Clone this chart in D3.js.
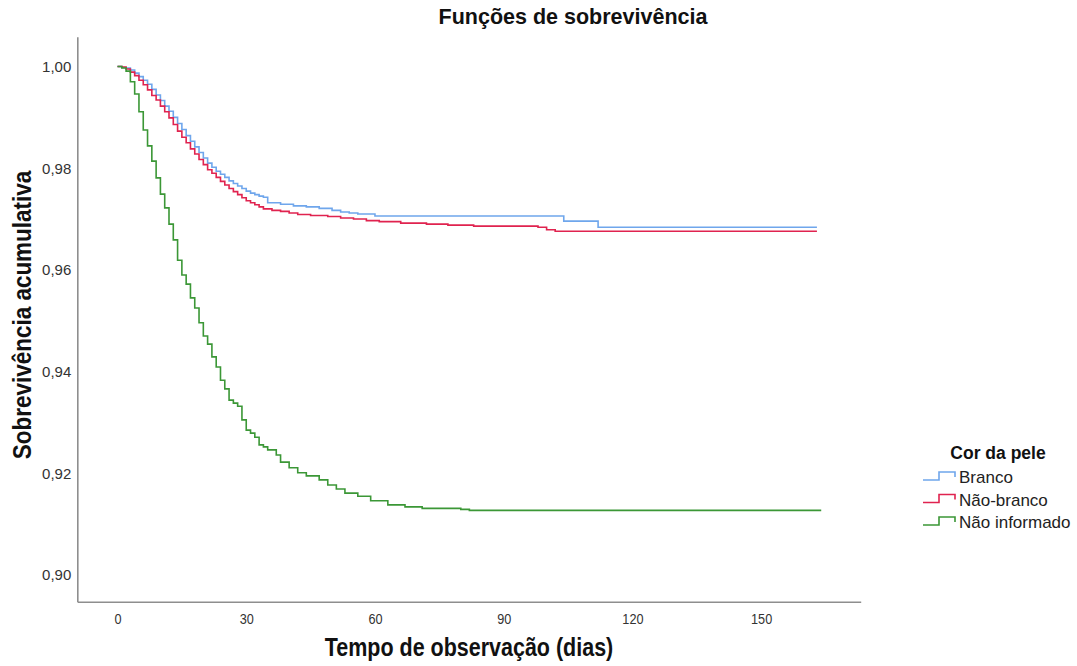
<!DOCTYPE html>
<html>
<head>
<meta charset="utf-8">
<script src="https://cdn.jsdelivr.net/npm/d3@7"></script>
<style>
	body { margin: 0; background: #fff; }
	text { font-family: "Liberation Sans", Arial, sans-serif; }
</style>
</head>
<body>
<div id="chart-area"></div>
<script>

// Kaplan-Meier curves (time in days, cumulative survival)
let brancoT = [0,1,2,3,4,5,6,7,8,9,10,11,12,13,14,15,16,17,18,19,20,21,22,23,24,25,26,27,28,29,30,31,32,33,34,
	35,38,41,44,47,50,52,54,56,60,104,112,163];
let brancoS = [1.0,0.9998,0.9997,0.9993,0.9987,0.9980,0.9973,0.9965,0.9955,0.9944,0.9933,0.9922,0.9912,0.9900,
	0.9888,0.9876,0.9864,0.9853,0.9842,0.9831,0.9820,0.9810,0.9802,0.9794,0.9788,0.9782,0.9775,0.9770,0.9765,
	0.9760,0.9755,0.9751,0.9748,0.9745,0.9743,
	0.9732,0.9729,0.9726,0.9724,0.9721,0.9717,0.9714,0.9712,0.9710,0.9706,0.9696,0.9684,0.9684];

let naoBrancoT = [0,1,2,3,4,5,6,7,8,9,10,11,12,13,14,15,16,17,18,19,20,21,22,23,24,25,26,27,28,29,30,31,32,33,34,
	36,38,40,42,45,49,52,55,58,61,66,72,77,83,98,100,102,163];
let naoBrancoS = [1.0,0.9999,0.9995,0.9989,0.9982,0.9973,0.9964,0.9954,0.9943,0.9934,0.9922,0.9911,0.9899,0.9886,
	0.9873,0.9861,0.9850,0.9838,0.9828,0.9817,0.9807,0.9797,0.9790,0.9782,0.9774,0.9767,0.9760,0.9754,0.9748,
	0.9742,0.9736,0.9732,0.9728,0.9724,0.9720,
	0.9717,0.9715,0.9712,0.9709,0.9707,0.9705,0.9702,0.9700,0.9697,0.9695,0.9692,0.9690,0.9688,0.9686,0.9684,
	0.9679,0.9676,0.9676];

let naoInfT = [0,1,2,3,4,5,6,7,8,9,10,11,12,13,14,15,16,17,18,19,20,21,22,23,24,25,26,27,28,29,30,31,32,33,34,35,
	37,38,40,42,44,47,49,51,53,56,59,63,67,71,80,82,164];
let naoInfS = [1.0,0.9997,0.9991,0.9970,0.9946,0.9911,0.9875,0.9844,0.9814,0.9781,0.9749,0.9722,0.9690,0.9659,
	0.9619,0.9590,0.9572,0.9545,0.9525,0.9496,0.9470,0.9454,0.9429,0.9409,0.9383,0.9366,0.9344,0.9338,0.9332,
	0.9305,0.9285,0.9279,0.9271,0.9256,0.9252,0.9246,
	0.9236,0.9222,0.9211,0.9201,0.9195,0.9187,0.9177,0.9169,0.9161,0.9155,0.9146,0.9138,0.9134,0.9131,0.9129,
	0.9127,0.9127];

let groupNames = ["Branco", "Não-branco", "Não informado"];
let xTicks = [0, 30, 60, 90, 120, 150];
let yTicks = [0.90, 0.92, 0.94, 0.96, 0.98, 1.00];

let series = [
	{name: groupNames[0], t: brancoT, s: brancoS, color: "#6fa6ec"},
	{name: groupNames[1], t: naoBrancoT, s: naoBrancoS, color: "#e0234f"},
	{name: groupNames[2], t: naoInfT, s: naoInfS, color: "#3b9736"}
];

let width = 1077,
	height = 666;

let svg = d3.select("#chart-area").append("svg")
	.attr("width", width)
	.attr("height", height);

// scales (frame: left edge x=77, bottom edge y=602)
let x = d3.scaleLinear()
	.domain([-9.37, 173.2])
	.range([77.3, 860.7]);

let y = d3.scaleLinear()
	.domain([0.89475, 1.00586])
	.range([601.7, 36.7]);

// axes
let xAxis = d3.axisBottom(x)
	.tickValues(xTicks)
	.tickSize(0)
	.tickSizeOuter(0)
	.tickPadding(11)
	.tickFormat(d3.format("d"));

let yAxis = d3.axisLeft(y)
	.tickValues(yTicks)
	.tickSize(0)
	.tickSizeOuter(0)
	.tickPadding(6)
	.tickFormat(d => d3.format(".2f")(d).replace(".", ","));

svg.append("g")
	.attr("class", "x-axis")
	.attr("transform", `translate(0, ${y.range()[0]})`)
	.call(xAxis);

svg.append("g")
	.attr("class", "y-axis")
	.attr("transform", `translate(${x.range()[0]}, 0)`)
	.call(yAxis);

svg.selectAll(".domain")
	.attr("stroke", "#8e8e8e")
	.attr("stroke-width", 1.6);

svg.selectAll(".tick text")
	.attr("font-size", 15)
	.attr("fill", "#333");

// the source labels look condensed
svg.selectAll(".x-axis .tick text")
	.attr("font-size", 15.5)
	.attr("transform", "scale(0.82,1)");

// survival curves
let line = d3.line()
	.x(d => x(d[0]))
	.y(d => y(d[1]))
	.curve(d3.curveStepAfter);

svg.selectAll(".km-line")
	.data(series)
	.enter().append("path")
	.attr("class", "km-line")
	.attr("fill", "none")
	.attr("stroke", d => d.color)
	.attr("stroke-width", 1.6)
	.attr("d", d => line(d.t.map((t, i) => [t, d.s[i]])));

// titles
svg.append("text")
	.attr("x", 573)
	.attr("y", 24)
	.attr("text-anchor", "middle")
	.attr("font-size", 21.5)
	.attr("font-weight", "bold")
	.attr("fill", "#111")
	.text("Funções de sobrevivência");

svg.append("text")
	.attr("transform", "translate(469, 656) scale(0.86,1)")
	.attr("text-anchor", "middle")
	.attr("font-size", 25)
	.attr("font-weight", "bold")
	.attr("fill", "#111")
	.text("Tempo de observação (dias)");

svg.append("text")
	.attr("transform", "translate(31, 315) rotate(-90) scale(0.9,1)")
	.attr("text-anchor", "middle")
	.attr("font-size", 25)
	.attr("font-weight", "bold")
	.attr("fill", "#111")
	.text("Sobrevivência acumulativa");

// legend
let legend = svg.append("g").attr("class", "legend");

legend.append("text")
	.attr("x", 998)
	.attr("y", 459)
	.attr("text-anchor", "middle")
	.attr("font-size", 17.5)
	.attr("font-weight", "bold")
	.attr("fill", "#111")
	.text("Cor da pele");

let items = legend.selectAll(".item")
	.data(series)
	.enter().append("g")
	.attr("class", "item")
	.attr("transform", (d, i) => `translate(0, ${477 + i * 22.5})`);

items.append("path")
	.attr("fill", "none")
	.attr("stroke", d => d.color)
	.attr("stroke-width", 1.6)
	.attr("d", "M923,3H939V-5H955V0");

items.append("text")
	.attr("x", 959)
	.attr("y", 0)
	.attr("dy", "0.36em")
	.attr("font-size", 17)
	.attr("fill", "#222")
	.text(d => d.name);

</script>
</body>
</html>
